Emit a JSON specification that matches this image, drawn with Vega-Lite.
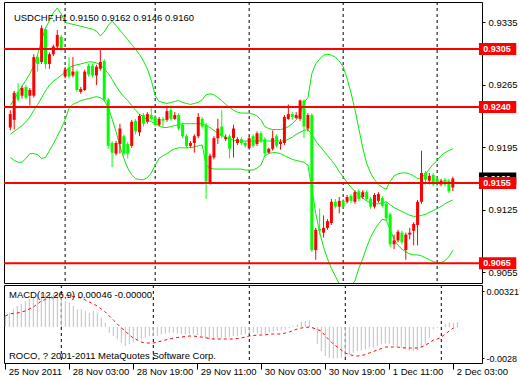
{
"$schema": "https://vega.github.io/schema/vega-lite/v6.json",
"background": "white",
"padding": {"left": 2, "top": 1, "right": 0, "bottom": 0},
"autosize": {"type": "pad"},
"spacing": 2,
"bounds": "flush",
"config": {
  "view": {"stroke": "#000", "strokeWidth": 1},
  "axis": {"labelFont": "Liberation Sans", "labelFontSize": 9.5, "labelColor": "#000", "tickColor": "#000", "domain": false, "grid": false},
  "text": {"font": "Liberation Sans"}
},
"datasets": {
  "grid": [{"i":14},{"i":37},{"i":61},{"i":85},{"i":109}],
  "levels": [{"v":0.9305},{"v":0.924},{"v":0.9155},{"v":0.9065}],
  "cur": [{"v":0.916}],
  "bars": [
{"i":0,"o":0.92171,"h":0.92365,"l":0.92139,"c":0.92322,"u":0.92420,"m":0.92095,"b":0.91836,"mh":0.00099,"ms":0.00099},
{"i":1,"o":0.92257,"h":0.92582,"l":0.92149,"c":0.92560,"u":0.92484,"m":0.92128,"b":0.91803,"mh":0.00126,"ms":0.00117},
{"i":2,"o":0.92571,"h":0.92668,"l":0.92463,"c":0.92484,"u":0.92560,"m":0.92160,"b":0.91782,"mh":0.00162,"ms":0.00122},
{"i":3,"o":0.92528,"h":0.92636,"l":0.92495,"c":0.92614,"u":0.92636,"m":0.92193,"b":0.91782,"mh":0.00189,"ms":0.00126},
{"i":4,"o":0.92625,"h":0.92647,"l":0.92484,"c":0.92506,"u":0.92701,"m":0.92236,"b":0.91825,"mh":0.00207,"ms":0.00135},
{"i":5,"o":0.92528,"h":0.92614,"l":0.92419,"c":0.92592,"u":0.92776,"m":0.92290,"b":0.91879,"mh":0.00234,"ms":0.00144},
{"i":6,"o":0.92528,"h":0.92992,"l":0.92506,"c":0.92960,"u":0.92863,"m":0.92365,"b":0.91879,"mh":0.00252,"ms":0.00162},
{"i":7,"o":0.92960,"h":0.92992,"l":0.92798,"c":0.92884,"u":0.92992,"m":0.92430,"b":0.91868,"mh":0.00261,"ms":0.00180},
{"i":8,"o":0.92906,"h":0.93317,"l":0.92884,"c":0.93284,"u":0.93155,"m":0.92506,"b":0.91825,"mh":0.00297,"ms":0.00207},
{"i":9,"o":0.93274,"h":0.93295,"l":0.92830,"c":0.92884,"u":0.93284,"m":0.92582,"b":0.91836,"mh":0.00306,"ms":0.00234},
{"i":10,"o":0.92884,"h":0.93014,"l":0.92830,"c":0.92992,"u":0.93371,"m":0.92647,"b":0.91912,"mh":0.00300,"ms":0.00248},
{"i":11,"o":0.92992,"h":0.93101,"l":0.92971,"c":0.93079,"u":0.93457,"m":0.92690,"b":0.91987,"mh":0.00294,"ms":0.00261},
{"i":12,"o":0.93079,"h":0.93263,"l":0.93047,"c":0.93209,"u":0.93511,"m":0.92722,"b":0.92074,"mh":0.00294,"ms":0.00275},
{"i":13,"o":0.93187,"h":0.93209,"l":0.93025,"c":0.93047,"u":0.93446,"m":0.92755,"b":0.92160,"mh":0.00279,"ms":0.00288},
{"i":14,"o":0.92744,"h":0.92852,"l":0.92722,"c":0.92820,"u":0.93349,"m":0.92798,"b":0.92257,"mh":0.00264,"ms":0.00297},
{"i":15,"o":0.92841,"h":0.92960,"l":0.92722,"c":0.92744,"u":0.93338,"m":0.92841,"b":0.92387,"mh":0.00234,"ms":0.00288},
{"i":16,"o":0.92755,"h":0.92960,"l":0.92733,"c":0.92798,"u":0.93328,"m":0.92863,"b":0.92430,"mh":0.00219,"ms":0.00279},
{"i":17,"o":0.92798,"h":0.92820,"l":0.92571,"c":0.92592,"u":0.93317,"m":0.92874,"b":0.92452,"mh":0.00189,"ms":0.00275},
{"i":18,"o":0.92571,"h":0.92625,"l":0.92549,"c":0.92603,"u":0.93306,"m":0.92884,"b":0.92474,"mh":0.00159,"ms":0.00266},
{"i":19,"o":0.92592,"h":0.92820,"l":0.92582,"c":0.92798,"u":0.93295,"m":0.92895,"b":0.92484,"mh":0.00159,"ms":0.00261},
{"i":20,"o":0.92863,"h":0.92884,"l":0.92744,"c":0.92766,"u":0.93284,"m":0.92906,"b":0.92495,"mh":0.00144,"ms":0.00243},
{"i":21,"o":0.92863,"h":0.92884,"l":0.92733,"c":0.92755,"u":0.93274,"m":0.92906,"b":0.92506,"mh":0.00129,"ms":0.00225},
{"i":22,"o":0.92755,"h":0.92874,"l":0.92647,"c":0.92852,"u":0.93252,"m":0.92895,"b":0.92517,"mh":0.00144,"ms":0.00207},
{"i":23,"o":0.92830,"h":0.93047,"l":0.92809,"c":0.92906,"u":0.93198,"m":0.92874,"b":0.92506,"mh":0.00129,"ms":0.00189},
{"i":24,"o":0.92917,"h":0.92938,"l":0.92463,"c":0.92484,"u":0.93241,"m":0.92830,"b":0.92474,"mh":0.00084,"ms":0.00162},
{"i":25,"o":0.92484,"h":0.92506,"l":0.91933,"c":0.91966,"u":0.93317,"m":0.92776,"b":0.92398,"mh":0.00039,"ms":0.00135},
{"i":26,"o":0.91998,"h":0.92020,"l":0.91728,"c":0.91890,"u":0.93360,"m":0.92711,"b":0.92268,"mh":-0.00051,"ms":0.00099},
{"i":27,"o":0.91879,"h":0.92020,"l":0.91857,"c":0.91998,"u":0.93317,"m":0.92636,"b":0.92128,"mh":-0.00081,"ms":0.00063},
{"i":28,"o":0.91987,"h":0.92214,"l":0.91879,"c":0.92160,"u":0.93263,"m":0.92571,"b":0.91966,"mh":-0.00111,"ms":0.00027},
{"i":29,"o":0.92074,"h":0.92095,"l":0.91857,"c":0.91879,"u":0.93209,"m":0.92517,"b":0.91825,"mh":-0.00141,"ms":-0.00009},
{"i":30,"o":0.91987,"h":0.92009,"l":0.91825,"c":0.91879,"u":0.93155,"m":0.92474,"b":0.91717,"mh":-0.00171,"ms":-0.00036},
{"i":31,"o":0.91966,"h":0.92257,"l":0.91944,"c":0.92236,"u":0.93101,"m":0.92419,"b":0.91641,"mh":-0.00156,"ms":-0.00072},
{"i":32,"o":0.92247,"h":0.92268,"l":0.92095,"c":0.92128,"u":0.93047,"m":0.92365,"b":0.91598,"mh":-0.00141,"ms":-0.00099},
{"i":33,"o":0.92117,"h":0.92322,"l":0.92074,"c":0.92301,"u":0.92992,"m":0.92322,"b":0.91587,"mh":-0.00120,"ms":-0.00117},
{"i":34,"o":0.92311,"h":0.92333,"l":0.92182,"c":0.92214,"u":0.92917,"m":0.92290,"b":0.91587,"mh":-0.00111,"ms":-0.00135},
{"i":35,"o":0.92236,"h":0.92344,"l":0.92214,"c":0.92322,"u":0.92830,"m":0.92257,"b":0.91609,"mh":-0.00096,"ms":-0.00144},
{"i":36,"o":0.92311,"h":0.92398,"l":0.92247,"c":0.92268,"u":0.92701,"m":0.92236,"b":0.91662,"mh":-0.00081,"ms":-0.00144},
{"i":37,"o":0.92290,"h":0.92311,"l":0.92182,"c":0.92203,"u":0.92528,"m":0.92214,"b":0.91749,"mh":-0.00081,"ms":-0.00144},
{"i":38,"o":0.92203,"h":0.92290,"l":0.92182,"c":0.92268,"u":0.92463,"m":0.92193,"b":0.91825,"mh":-0.00081,"ms":-0.00135},
{"i":39,"o":0.92268,"h":0.92290,"l":0.92182,"c":0.92247,"u":0.92452,"m":0.92171,"b":0.91857,"mh":-0.00066,"ms":-0.00126},
{"i":40,"o":0.92257,"h":0.92419,"l":0.92236,"c":0.92355,"u":0.92441,"m":0.92171,"b":0.91879,"mh":-0.00060,"ms":-0.00117},
{"i":41,"o":0.92365,"h":0.92419,"l":0.92247,"c":0.92268,"u":0.92452,"m":0.92182,"b":0.91912,"mh":-0.00051,"ms":-0.00108},
{"i":42,"o":0.92268,"h":0.92344,"l":0.92257,"c":0.92311,"u":0.92463,"m":0.92193,"b":0.91933,"mh":-0.00051,"ms":-0.00099},
{"i":43,"o":0.92311,"h":0.92333,"l":0.92139,"c":0.92160,"u":0.92474,"m":0.92203,"b":0.91944,"mh":-0.00060,"ms":-0.00095},
{"i":44,"o":0.92203,"h":0.92225,"l":0.92052,"c":0.92074,"u":0.92452,"m":0.92214,"b":0.91944,"mh":-0.00066,"ms":-0.00090},
{"i":45,"o":0.92074,"h":0.92095,"l":0.91944,"c":0.91966,"u":0.92441,"m":0.92214,"b":0.91944,"mh":-0.00066,"ms":-0.00086},
{"i":46,"o":0.91966,"h":0.92020,"l":0.91944,"c":0.91998,"u":0.92430,"m":0.92214,"b":0.91944,"mh":-0.00066,"ms":-0.00081},
{"i":47,"o":0.91998,"h":0.92095,"l":0.91890,"c":0.92074,"u":0.92441,"m":0.92214,"b":0.91955,"mh":-0.00066,"ms":-0.00081},
{"i":48,"o":0.92074,"h":0.92333,"l":0.92052,"c":0.92290,"u":0.92452,"m":0.92214,"b":0.91966,"mh":-0.00072,"ms":-0.00086},
{"i":49,"o":0.92268,"h":0.92290,"l":0.92160,"c":0.92182,"u":0.92484,"m":0.92214,"b":0.91976,"mh":-0.00081,"ms":-0.00090},
{"i":50,"o":0.92203,"h":0.92225,"l":0.91371,"c":0.91566,"u":0.92538,"m":0.92193,"b":0.91749,"mh":-0.00102,"ms":-0.00095},
{"i":51,"o":0.91555,"h":0.91879,"l":0.91533,"c":0.91857,"u":0.92549,"m":0.92171,"b":0.91717,"mh":-0.00111,"ms":-0.00104},
{"i":52,"o":0.91836,"h":0.92074,"l":0.91814,"c":0.92052,"u":0.92538,"m":0.92139,"b":0.91706,"mh":-0.00111,"ms":-0.00108},
{"i":53,"o":0.92052,"h":0.92268,"l":0.91987,"c":0.92160,"u":0.92506,"m":0.92106,"b":0.91706,"mh":-0.00102,"ms":-0.00108},
{"i":54,"o":0.92182,"h":0.92365,"l":0.92052,"c":0.92074,"u":0.92474,"m":0.92084,"b":0.91706,"mh":-0.00102,"ms":-0.00108},
{"i":55,"o":0.92041,"h":0.92095,"l":0.92020,"c":0.92063,"u":0.92430,"m":0.92063,"b":0.91706,"mh":-0.00096,"ms":-0.00108},
{"i":56,"o":0.92074,"h":0.92095,"l":0.91825,"c":0.91933,"u":0.92398,"m":0.92041,"b":0.91706,"mh":-0.00090,"ms":-0.00108},
{"i":57,"o":0.92052,"h":0.92203,"l":0.91836,"c":0.92160,"u":0.92365,"m":0.92031,"b":0.91706,"mh":-0.00081,"ms":-0.00108},
{"i":58,"o":0.91998,"h":0.92063,"l":0.91976,"c":0.92041,"u":0.92344,"m":0.92020,"b":0.91706,"mh":-0.00081,"ms":-0.00104},
{"i":59,"o":0.92041,"h":0.92063,"l":0.91976,"c":0.91998,"u":0.92333,"m":0.92020,"b":0.91706,"mh":-0.00072,"ms":-0.00099},
{"i":60,"o":0.91998,"h":0.92020,"l":0.91944,"c":0.91966,"u":0.92333,"m":0.92020,"b":0.91695,"mh":-0.00066,"ms":-0.00090},
{"i":61,"o":0.91944,"h":0.92074,"l":0.91922,"c":0.92052,"u":0.92333,"m":0.92020,"b":0.91695,"mh":-0.00060,"ms":-0.00081},
{"i":62,"o":0.92074,"h":0.92095,"l":0.91944,"c":0.91966,"u":0.92322,"m":0.92020,"b":0.91695,"mh":-0.00051,"ms":-0.00077},
{"i":63,"o":0.91987,"h":0.92128,"l":0.91966,"c":0.92106,"u":0.92301,"m":0.92020,"b":0.91717,"mh":-0.00060,"ms":-0.00072},
{"i":64,"o":0.92106,"h":0.92128,"l":0.91998,"c":0.92020,"u":0.92257,"m":0.92020,"b":0.91749,"mh":-0.00060,"ms":-0.00072},
{"i":65,"o":0.92041,"h":0.92063,"l":0.91857,"c":0.91879,"u":0.92182,"m":0.92020,"b":0.91857,"mh":-0.00063,"ms":-0.00072},
{"i":66,"o":0.91890,"h":0.91944,"l":0.91879,"c":0.91933,"u":0.92160,"m":0.92020,"b":0.91879,"mh":-0.00051,"ms":-0.00063},
{"i":67,"o":0.91933,"h":0.92139,"l":0.91912,"c":0.92052,"u":0.92149,"m":0.92020,"b":0.91890,"mh":-0.00042,"ms":-0.00063},
{"i":68,"o":0.92074,"h":0.92095,"l":0.91944,"c":0.91966,"u":0.92149,"m":0.92020,"b":0.91890,"mh":-0.00036,"ms":-0.00063},
{"i":69,"o":0.91987,"h":0.92041,"l":0.91922,"c":0.92009,"u":0.92149,"m":0.92020,"b":0.91879,"mh":-0.00030,"ms":-0.00063},
{"i":70,"o":0.91998,"h":0.92311,"l":0.91976,"c":0.92290,"u":0.92160,"m":0.92020,"b":0.91857,"mh":-0.00021,"ms":-0.00054},
{"i":71,"o":0.92268,"h":0.92430,"l":0.92257,"c":0.92322,"u":0.92182,"m":0.92041,"b":0.91836,"mh":-0.00012,"ms":-0.00045},
{"i":72,"o":0.92322,"h":0.92344,"l":0.92257,"c":0.92290,"u":0.92214,"m":0.92063,"b":0.91814,"mh":0.00009,"ms":-0.00032},
{"i":73,"o":0.92279,"h":0.92344,"l":0.92268,"c":0.92311,"u":0.92257,"m":0.92095,"b":0.91803,"mh":0.00024,"ms":-0.00018},
{"i":74,"o":0.92268,"h":0.92484,"l":0.92247,"c":0.92474,"u":0.92322,"m":0.92117,"b":0.91793,"mh":0.00048,"ms":-0.00009},
{"i":75,"o":0.92474,"h":0.92484,"l":0.92052,"c":0.92182,"u":0.92452,"m":0.92139,"b":0.91782,"mh":0.00054,"ms":-0.00005},
{"i":76,"o":0.92160,"h":0.92333,"l":0.92128,"c":0.92311,"u":0.92506,"m":0.92149,"b":0.91749,"mh":0.00060,"ms":0.0},
{"i":77,"o":0.92311,"h":0.92333,"l":0.90777,"c":0.90798,"u":0.92776,"m":0.92095,"b":0.91479,"mh":-0.00021,"ms":-0.00009},
{"i":78,"o":0.90798,"h":0.91047,"l":0.90690,"c":0.91025,"u":0.92884,"m":0.92020,"b":0.91209,"mh":-0.00156,"ms":-0.00023},
{"i":79,"o":0.91036,"h":0.91263,"l":0.90971,"c":0.91014,"u":0.92938,"m":0.91966,"b":0.90993,"mh":-0.00216,"ms":-0.00036},
{"i":80,"o":0.90993,"h":0.91187,"l":0.90939,"c":0.91047,"u":0.92982,"m":0.91912,"b":0.90831,"mh":-0.00261,"ms":-0.00081},
{"i":81,"o":0.91047,"h":0.91144,"l":0.91025,"c":0.91122,"u":0.92992,"m":0.91857,"b":0.90701,"mh":-0.00276,"ms":-0.00117},
{"i":82,"o":0.91101,"h":0.91371,"l":0.91079,"c":0.91339,"u":0.92982,"m":0.91803,"b":0.90593,"mh":-0.00282,"ms":-0.00153},
{"i":83,"o":0.91339,"h":0.91371,"l":0.91263,"c":0.91285,"u":0.92960,"m":0.91749,"b":0.90506,"mh":-0.00282,"ms":-0.00180},
{"i":84,"o":0.91285,"h":0.91393,"l":0.91209,"c":0.91349,"u":0.92917,"m":0.91674,"b":0.90420,"mh":-0.00276,"ms":-0.00207},
{"i":85,"o":0.91349,"h":0.91371,"l":0.91263,"c":0.91285,"u":0.92852,"m":0.91619,"b":0.90376,"mh":-0.00270,"ms":-0.00234},
{"i":86,"o":0.91339,"h":0.91415,"l":0.91317,"c":0.91393,"u":0.92722,"m":0.91555,"b":0.90376,"mh":-0.00252,"ms":-0.00248},
{"i":87,"o":0.91403,"h":0.91426,"l":0.91328,"c":0.91349,"u":0.92560,"m":0.91501,"b":0.90398,"mh":-0.00231,"ms":-0.00257},
{"i":88,"o":0.91339,"h":0.91469,"l":0.91317,"c":0.91447,"u":0.92376,"m":0.91458,"b":0.90452,"mh":-0.00216,"ms":-0.00261},
{"i":89,"o":0.91458,"h":0.91480,"l":0.91349,"c":0.91371,"u":0.92160,"m":0.91415,"b":0.90593,"mh":-0.00210,"ms":-0.00257},
{"i":90,"o":0.91393,"h":0.91469,"l":0.91371,"c":0.91447,"u":0.91944,"m":0.91382,"b":0.90701,"mh":-0.00201,"ms":-0.00248},
{"i":91,"o":0.91447,"h":0.91469,"l":0.91349,"c":0.91371,"u":0.91771,"m":0.91349,"b":0.90831,"mh":-0.00186,"ms":-0.00234},
{"i":92,"o":0.91371,"h":0.91393,"l":0.91263,"c":0.91285,"u":0.91662,"m":0.91328,"b":0.90939,"mh":-0.00186,"ms":-0.00221},
{"i":93,"o":0.91285,"h":0.91436,"l":0.91263,"c":0.91415,"u":0.91587,"m":0.91317,"b":0.91025,"mh":-0.00171,"ms":-0.00207},
{"i":94,"o":0.91349,"h":0.91447,"l":0.91328,"c":0.91426,"u":0.91533,"m":0.91317,"b":0.91090,"mh":-0.00156,"ms":-0.00194},
{"i":95,"o":0.91382,"h":0.91403,"l":0.91274,"c":0.91295,"u":0.91501,"m":0.91328,"b":0.91144,"mh":-0.00150,"ms":-0.00180},
{"i":96,"o":0.91317,"h":0.91339,"l":0.91133,"c":0.91155,"u":0.91480,"m":0.91339,"b":0.91133,"mh":-0.00150,"ms":-0.00180},
{"i":97,"o":0.91198,"h":0.91220,"l":0.90831,"c":0.90863,"u":0.91566,"m":0.91306,"b":0.91025,"mh":-0.00162,"ms":-0.00180},
{"i":98,"o":0.90863,"h":0.90971,"l":0.90809,"c":0.90906,"u":0.91630,"m":0.91274,"b":0.90917,"mh":-0.00171,"ms":-0.00180},
{"i":99,"o":0.90906,"h":0.91025,"l":0.90885,"c":0.91003,"u":0.91652,"m":0.91252,"b":0.90852,"mh":-0.00186,"ms":-0.00185},
{"i":100,"o":0.90993,"h":0.91014,"l":0.90863,"c":0.90885,"u":0.91662,"m":0.91231,"b":0.90809,"mh":-0.00201,"ms":-0.00189},
{"i":101,"o":0.90798,"h":0.90993,"l":0.90690,"c":0.90971,"u":0.91662,"m":0.91209,"b":0.90777,"mh":-0.00216,"ms":-0.00189},
{"i":102,"o":0.90971,"h":0.91047,"l":0.90917,"c":0.90993,"u":0.91652,"m":0.91187,"b":0.90755,"mh":-0.00216,"ms":-0.00189},
{"i":103,"o":0.91014,"h":0.91111,"l":0.90852,"c":0.91090,"u":0.91630,"m":0.91176,"b":0.90744,"mh":-0.00210,"ms":-0.00189},
{"i":104,"o":0.91079,"h":0.91360,"l":0.90852,"c":0.91339,"u":0.91598,"m":0.91176,"b":0.90744,"mh":-0.00186,"ms":-0.00180},
{"i":105,"o":0.91339,"h":0.91912,"l":0.91317,"c":0.91662,"u":0.91609,"m":0.91187,"b":0.90733,"mh":-0.00156,"ms":-0.00162},
{"i":106,"o":0.91662,"h":0.91684,"l":0.91533,"c":0.91587,"u":0.91652,"m":0.91198,"b":0.90712,"mh":-0.00096,"ms":-0.00144},
{"i":107,"o":0.91576,"h":0.91662,"l":0.91533,"c":0.91630,"u":0.91706,"m":0.91220,"b":0.90690,"mh":-0.00021,"ms":-0.00117},
{"i":108,"o":0.91641,"h":0.91662,"l":0.91512,"c":0.91533,"u":0.91760,"m":0.91241,"b":0.90668,"mh":-0.00006,"ms":-0.00108},
{"i":109,"o":0.91598,"h":0.91619,"l":0.91512,"c":0.91555,"u":0.91803,"m":0.91263,"b":0.90657,"mh":0.00003,"ms":-0.00090},
{"i":110,"o":0.91533,"h":0.91598,"l":0.91512,"c":0.91576,"u":0.91857,"m":0.91285,"b":0.90657,"mh":0.00030,"ms":-0.00063},
{"i":111,"o":0.91587,"h":0.91609,"l":0.91512,"c":0.91533,"u":0.91890,"m":0.91317,"b":0.90679,"mh":0.00039,"ms":-0.00036},
{"i":112,"o":0.91576,"h":0.91598,"l":0.91436,"c":0.91458,"u":0.91912,"m":0.91339,"b":0.90722,"mh":0.00039,"ms":-0.00009},
{"i":113,"o":0.9150,"h":0.9162,"l":0.9146,"c":0.9160,"u":0.91933,"m":0.91360,"b":0.90798,"mh":0.00046,"ms":0.0}
  ]
},
"vconcat": [
  {
    "width": 478, "height": 281,
    "layer": [
      {"data": {"name": "grid"}, "mark": {"type": "rule", "color": "#000", "strokeDash": [3, 3], "strokeWidth": 1},
       "encoding": {"x": {"field": "i", "type": "quantitative", "scale": {"domain": [-0.325, 119.175], "nice": false, "zero": false}, "axis": null}}},
      {"data": {"name": "bars"}, "mark": {"type": "line", "color": "#00ee00", "strokeWidth": 1, "clip": true},
       "encoding": {"x": {"field": "i", "type": "quantitative", "axis": null},
         "y": {"field": "u", "type": "quantitative", "scale": {"domain": [0.90485, 0.93522], "nice": false, "zero": false},
         "axis": {"orient": "right", "values": [0.9055, 0.909, 0.9125, 0.916, 0.9195, 0.923, 0.9265, 0.93, 0.9335], "format": ".4f", "tickSize": 3, "labelPadding": 3, "title": null}}}},
      {"data": {"name": "bars"}, "mark": {"type": "line", "color": "#00ee00", "strokeWidth": 1, "clip": true},
       "encoding": {"x": {"field": "i", "type": "quantitative", "axis": null}, "y": {"field": "m", "type": "quantitative", "title": null}}},
      {"data": {"name": "bars"}, "mark": {"type": "line", "color": "#00ee00", "strokeWidth": 1, "clip": true},
       "encoding": {"x": {"field": "i", "type": "quantitative", "axis": null}, "y": {"field": "b", "type": "quantitative", "title": null}}},
      {"data": {"name": "bars"}, "mark": {"type": "rule", "strokeWidth": 1},
       "encoding": {"x": {"field": "i", "type": "quantitative", "axis": null}, "y": {"field": "l", "type": "quantitative", "title": null}, "y2": {"field": "h"},
         "color": {"condition": {"test": "datum.c >= datum.o", "value": "#ff0000"}, "value": "#00ff00"}}},
      {"data": {"name": "bars"}, "mark": {"type": "bar", "size": 3, "orient": "vertical"},
       "encoding": {"x": {"field": "i", "type": "quantitative", "axis": null}, "y": {"field": "o", "type": "quantitative", "title": null}, "y2": {"field": "c"},
         "color": {"condition": {"test": "datum.c >= datum.o", "value": "#ff0000"}, "value": "#00ff00"}}},
      {"data": {"name": "levels"}, "mark": {"type": "rule", "color": "#ff0000", "strokeWidth": 2},
       "encoding": {"y": {"field": "v", "type": "quantitative", "title": null}}},
      {"data": {"values": [{"t": "USDCHF,H1  0.9150 0.9162 0.9146 0.9160"}]},
       "mark": {"type": "text", "align": "left", "baseline": "middle", "fontSize": 9.5, "color": "#000"},
       "encoding": {"x": {"datum": 0.925, "type": "quantitative", "axis": null}, "y": {"datum": 0.93403, "type": "quantitative", "title": null}, "text": {"field": "t"}}},
      {"data": {"name": "cur"}, "mark": {"type": "bar", "orient": "horizontal", "size": 12, "color": "#000"},
       "encoding": {"x": {"datum": 119.675, "type": "quantitative", "axis": null}, "x2": {"datum": 129.2}, "y": {"field": "v", "type": "quantitative", "title": null}}},
      {"data": {"name": "cur"}, "mark": {"type": "text", "color": "white", "fontWeight": "bold", "fontSize": 9, "align": "center", "baseline": "middle"},
       "encoding": {"x": {"datum": 124.3, "type": "quantitative", "axis": null}, "y": {"field": "v", "type": "quantitative", "title": null}, "text": {"field": "v", "type": "quantitative", "format": ".4f"}}},
      {"data": {"name": "levels"}, "mark": {"type": "bar", "orient": "horizontal", "size": 12, "color": "#ff0000"},
       "encoding": {"x": {"datum": 119.675, "type": "quantitative", "axis": null}, "x2": {"datum": 129.2}, "y": {"field": "v", "type": "quantitative", "title": null}}},
      {"data": {"name": "levels"}, "mark": {"type": "text", "color": "white", "fontWeight": "bold", "fontSize": 9, "align": "center", "baseline": "middle"},
       "encoding": {"x": {"datum": 124.3, "type": "quantitative", "axis": null}, "y": {"field": "v", "type": "quantitative", "title": null}, "text": {"field": "v", "type": "quantitative", "format": ".4f"}}}
    ]
  },
  {
    "width": 478, "height": 78,
    "layer": [
      {"data": {"name": "grid"}, "mark": {"type": "rule", "color": "#000", "strokeDash": [3, 3], "strokeWidth": 1},
       "encoding": {"x": {"field": "i", "type": "quantitative", "scale": {"domain": [-0.325, 119.175], "nice": false, "zero": false},
        "axis": {"orient": "bottom", "values": [0, 16, 32, 48, 64, 80, 96, 112],
          "labelExpr": "['25 Nov 2011','28 Nov 03:00','28 Nov 19:00','29 Nov 11:00','30 Nov 03:00','30 Nov 19:00','1 Dec 11:00','2 Dec 03:00'][round(datum.value/16)]",
          "tickSize": 6, "labelAlign": "left", "labelBaseline": "top", "labelPadding": -3, "labelOffset": 3, "labelFlush": false, "labelOverlap": false, "labelBound": false, "title": null}}}},
      {"data": {"name": "bars"}, "mark": {"type": "rule", "color": "#c0c0c0", "strokeWidth": 1},
       "encoding": {"x": {"field": "i", "type": "quantitative", "title": null},
         "y": {"field": "mh", "type": "quantitative", "scale": {"domain": [-0.00324, 0.00378], "nice": false, "zero": false},
         "axis": {"orient": "right", "values": [-0.0028, 0, 0.00321], "labelExpr": "datum.value > 0.003 ? '0.00321' : (datum.value < -0.002 ? '-0.0028' : '0.00')", "tickSize": 2, "labelPadding": 2, "labelFontSize": 9, "title": null}},
         "y2": {"datum": 0}}},
      {"data": {"name": "bars"}, "mark": {"type": "line", "color": "#ff0000", "strokeWidth": 1, "strokeDash": [3, 3]},
       "encoding": {"x": {"field": "i", "type": "quantitative", "title": null}, "y": {"field": "ms", "type": "quantitative", "title": null}}},
      {"data": {"values": [{"t": "MACD(12,26,9) 0.00046 -0.00000", "y": 0.00288}, {"t": "ROCO, ? 2001-2011 MetaQuotes Software Corp.", "y": -0.00261}]},
       "mark": {"type": "text", "align": "left", "baseline": "middle", "fontSize": 9.5, "color": "#000"},
       "encoding": {"x": {"datum": 0.925, "type": "quantitative", "title": null}, "y": {"field": "y", "type": "quantitative", "title": null}, "text": {"field": "t"}}}
    ]
  }
]
}
